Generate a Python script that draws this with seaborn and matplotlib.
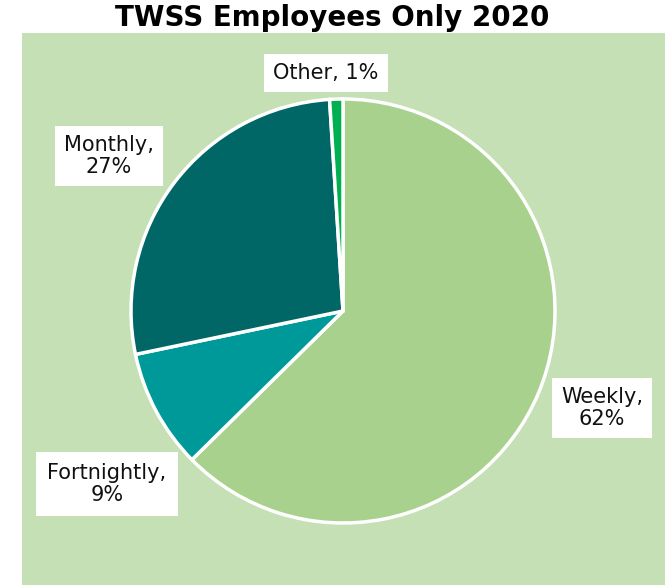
import matplotlib
matplotlib.use('Agg')
import matplotlib.pyplot as plt
import seaborn as sns

categories = ['Weekly', 'Fortnightly', 'Monthly', 'Other']
shares = [62, 9, 27, 1]
colors = ['#A9D18E', '#009999', '#006666', '#00B050']

sns.set_style('white')
plt.rcParams['font.family'] = ['DejaVu Sans']

fig = plt.figure(figsize=(6.71, 5.85), dpi=100)
# axes laid out in pixel units so the page geometry is easy to match
ax = fig.add_axes([22 / 671, 0, 643 / 671, 552 / 585])
ax.set_facecolor('#C5E0B4')

ax.pie(shares, colors=colors, startangle=90, counterclock=False,
       center=(343, 274), radius=212, frame=True,
       wedgeprops=dict(edgecolor='white', linewidth=2.5))
ax.set_xlim(22, 665)
ax.set_ylim(0, 552)
ax.set_aspect('auto')
ax.set_xticks([])
ax.set_yticks([])
for s in ax.spines.values():
    s.set_visible(False)

# label boxes: x, y (pixel units), two lines?, box padding
label_pos = {'Weekly': (602, 177, True, 0.45), 'Fortnightly': (107, 101, True, 0.55),
             'Monthly': (109, 429, True, 0.42), 'Other': (326, 512, False, 0.45)}
for cat, val in zip(categories, shares):
    x, y, two_lines, pad = label_pos[cat]
    txt = f'{cat},\n{val}%' if two_lines else f'{cat}, {val}%'
    ax.text(x, y, txt, ha='center', va='center', fontsize=15, color='#111111',
            linespacing=1.1,
            bbox=dict(boxstyle=f'square,pad={pad}', facecolor='white', edgecolor='none'))

fig.text(332.5 / 671, 1 - 18 / 585, 'TWSS Employees Only 2020', ha='center', va='center',
         fontsize=20, fontweight='bold', color='black')

fig.savefig('out.png', dpi=100, facecolor='white')
